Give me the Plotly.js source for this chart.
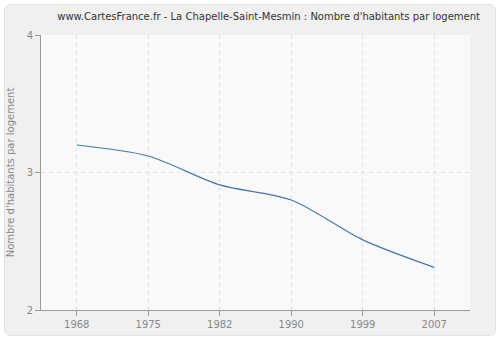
<!DOCTYPE html>
<html><head><meta charset="utf-8">
<script src="https://cdn.plot.ly/plotly-3.0.1.min.js"></script>
<style>
html,body{margin:0;padding:0;background:#fff;}
#wrap{position:absolute;left:4px;top:4px;width:490px;height:330px;border:1px solid #e2e2e2;border-radius:6px;background:#f0f0f0;overflow:hidden;}
#chart{width:490px;height:330px;}
</style></head>
<body><div id="wrap"><div id="chart"></div></div>
<script>
const years = ['1968','1975','1982','1990','1999','2007'];
const values = [3.20, 3.12, 2.91, 2.80, 2.51, 2.31];
const yTicks = [2, 3, 4];
const titleText = "www.CartesFrance.fr - La Chapelle-Saint-Mesmin : Nombre d'habitants par logement";
const yTitle = "Nombre d'habitants par logement";

const trace = {
  x: years, y: values, type: 'scatter', mode: 'lines',
  line: {color: '#4a76aa', width: 1.2, shape: 'spline', smoothing: 0.8},
  hoverinfo: 'skip'
};
const layout = {
  width: 490, height: 330,
  margin: {l: 36, r: 25, t: 30, b: 25},
  paper_bgcolor: '#f0f0f0', plot_bgcolor: '#f9f9f9',
  showlegend: false,
  font: {family: 'DejaVu Sans, Verdana, sans-serif', size: 10, color: '#888'},
  title: {text: titleText, font: {size: 10, color: '#333', family: 'DejaVu Sans, Verdana, sans-serif'}, x: 0.538, xanchor: 'center', y: 0.965, yanchor: 'middle'},
  xaxis: {
    type: 'category', range: [-0.5, 5.5], fixedrange: true,
    showgrid: true, gridcolor: '#e2e2e2', griddash: '4px,4px', gridwidth: 1,
    showline: true, linecolor: '#999', linewidth: 1,
    ticks: 'outside', ticklen: 5, tickcolor: '#999',
    tickfont: {size: 10, color: '#888'}, zeroline: false
  },
  yaxis: {
    range: [2, 4], tickvals: yTicks, fixedrange: true,
    showgrid: true, gridcolor: '#e2e2e2', griddash: '4px,4px', gridwidth: 1,
    showline: true, linecolor: '#999', linewidth: 1,
    ticks: 'outside', ticklen: 5, tickcolor: '#999',
    tickfont: {size: 10, color: '#888'}, zeroline: false,
    title: {text: yTitle, font: {size: 10, color: '#888'}, standoff: 12}
  }
};
Plotly.newPlot('chart', [trace], layout, {staticPlot: true, displayModeBar: false});
</script></body></html>
